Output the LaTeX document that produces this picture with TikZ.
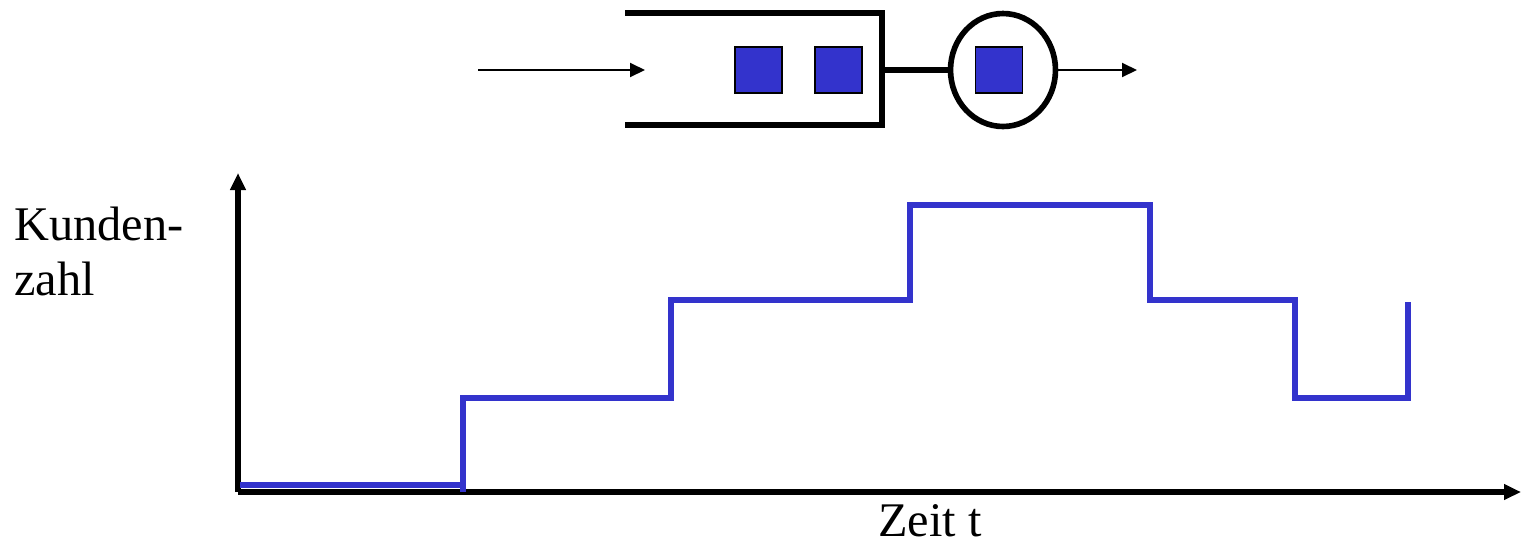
\documentclass[tikz,border=0pt]{standalone}
\usepackage{fontspec}
\setmainfont{Liberation Serif}
\usetikzlibrary{arrows.meta,shapes.geometric}
\definecolor{custblue}{HTML}{3333CC}
\begin{document}
\begin{tikzpicture}[x=0.02cm,y=-0.02cm,
  thick/.style={line width=3.4pt},
  cust/.style={draw=black,line width=0.6pt,fill=custblue,minimum width=0.94cm,minimum height=0.92cm,inner sep=0pt},
  flow/.style={line width=1.1pt,-{Triangle[length=0.3cm,width=0.28cm]}},
  axis/.style={line width=2.9pt,-{Triangle[length=0.34cm,width=0.3cm]}},
  curve/.style={custblue,line width=3.5pt},
  lbl/.style={font=\fontsize{27.5}{31}\selectfont,inner sep=0pt}]
\useasboundingbox (0,0) rectangle (1521,545);
% queue
\coordinate (qtl) at (625,13);
\coordinate (qtr) at (882,13);
\coordinate (qbl) at (625,125);
\coordinate (qbr) at (882,125);
\coordinate (qmid) at (882,70);
\draw[thick] (qtl) -- (qtr) -- (qbr) -- (qbl);
\node[cust] (c1) at (758.5,70) {};
\node[cust] (c2) at (838.5,70) {};
\node[draw,line width=3.2pt,ellipse,minimum width=2.1cm,minimum height=2.26cm,inner sep=0pt] (srv) at (1003,70) {};
\node[cust] (c3) at (999,70) {};
\draw[thick] (qmid) -- (srv.west);
\coordinate (in) at (478,70);
\coordinate (inend) at (645,70);
\draw[flow] (in) -- (inend);
\coordinate (out) at (1137,70);
\draw[flow] (srv.east) -- (out);
% axes
\coordinate (o) at (238,492);
\coordinate (ytip) at (238,173);
\coordinate (xtip) at (1521,492);
\draw[axis] (o) -- (ytip);
\draw[axis] (o) -- (xtip);
\node[lbl,anchor=base west,align=left] (ylab) at (14,240) {Kunden-};
\node[lbl,anchor=base west,align=left] (ylab2) at (14,295) {zahl};
\node[lbl,anchor=base] (xlab) at (930,536) {Zeit t};
% step curve
\draw[curve] (240,485) -- (463,485) -- (463,492);
\draw[curve] (463,490) -- (463,398) -- (671,398) -- (671,300) -- (910,300) -- (910,205) -- (1150,205) -- (1150,300) -- (1295,300) -- (1295,398) -- (1408,398) -- (1408,302);
\end{tikzpicture}
\end{document}
